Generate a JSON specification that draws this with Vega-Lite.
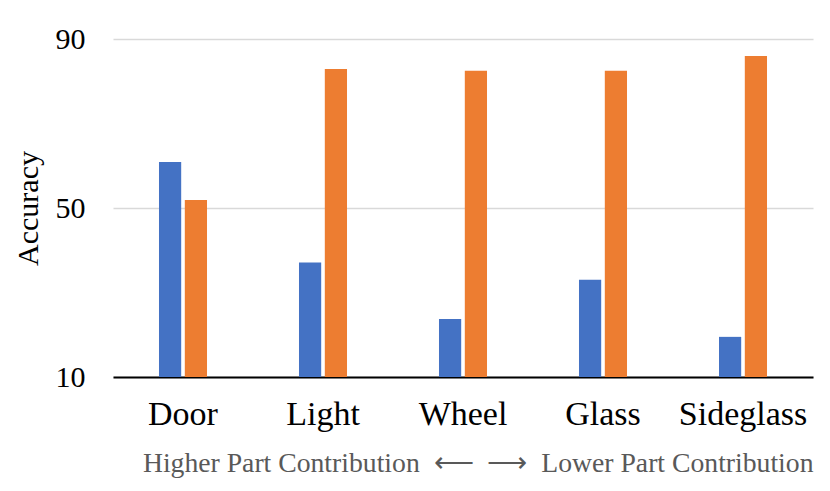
{
  "$schema": "https://vega.github.io/schema/vega-lite/v6.json",
  "autosize": {"type": "none"},
  "padding": {"left": 113, "top": 39, "right": 17, "bottom": 114},
  "width": 700,
  "height": 338,
  "background": "white",
  "data": {
    "values": [
      {"part": "Door", "series": "Series 1", "accuracy": 60.9},
      {"part": "Door", "series": "Series 2", "accuracy": 51.9},
      {"part": "Light", "series": "Series 1", "accuracy": 37.1},
      {"part": "Light", "series": "Series 2", "accuracy": 82.9},
      {"part": "Wheel", "series": "Series 1", "accuracy": 23.7},
      {"part": "Wheel", "series": "Series 2", "accuracy": 82.5},
      {"part": "Glass", "series": "Series 1", "accuracy": 33.0},
      {"part": "Glass", "series": "Series 2", "accuracy": 82.5},
      {"part": "Sideglass", "series": "Series 1", "accuracy": 19.5},
      {"part": "Sideglass", "series": "Series 2", "accuracy": 86.0}
    ]
  },
  "mark": {"type": "bar"},
  "encoding": {
    "x": {
      "field": "part",
      "type": "nominal",
      "sort": ["Door", "Light", "Wheel", "Glass", "Sideglass"],
      "scale": {"paddingInner": 0.657, "paddingOuter": 0.3285},
      "axis": {
        "title": "Higher Part Contribution\u2002⟵\u2002⟶\u2002Lower Part Contribution",
        "titleFont": "Liberation Serif",
        "titleFontSize": 27.7,
        "titleFontWeight": "normal",
        "titleColor": "#595959",
        "titlePadding": 18,
        "titleAnchor": "end",
        "labelFont": "Liberation Serif",
        "labelFontSize": 34,
        "labelColor": "black",
        "labelAngle": 0,
        "labelPadding": 20,
        "ticks": false,
        "domain": true,
        "domainColor": "black",
        "domainWidth": 2,
        "grid": false
      }
    },
    "xOffset": {
      "field": "series",
      "type": "nominal",
      "scale": {"paddingInner": 0.14, "paddingOuter": 0}
    },
    "y": {
      "field": "accuracy",
      "type": "quantitative",
      "scale": {"domain": [10, 90], "zero": false, "nice": false},
      "axis": {
        "title": "Accuracy",
        "titleFont": "Liberation Serif",
        "titleFontSize": 30,
        "titleFontWeight": "normal",
        "titleColor": "black",
        "titlePadding": 12,
        "values": [10, 50, 90],
        "labelFont": "Liberation Serif",
        "labelFontSize": 30,
        "labelColor": "black",
        "labelPadding": 28,
        "ticks": false,
        "domain": false,
        "grid": true,
        "gridColor": "#D9D9D9",
        "gridWidth": 1.5
      }
    },
    "y2": {"datum": 10},
    "color": {
      "field": "series",
      "type": "nominal",
      "scale": {"range": ["#4472C4", "#ED7D31"]},
      "legend": null
    }
  },
  "config": {"view": {"stroke": null}}
}
